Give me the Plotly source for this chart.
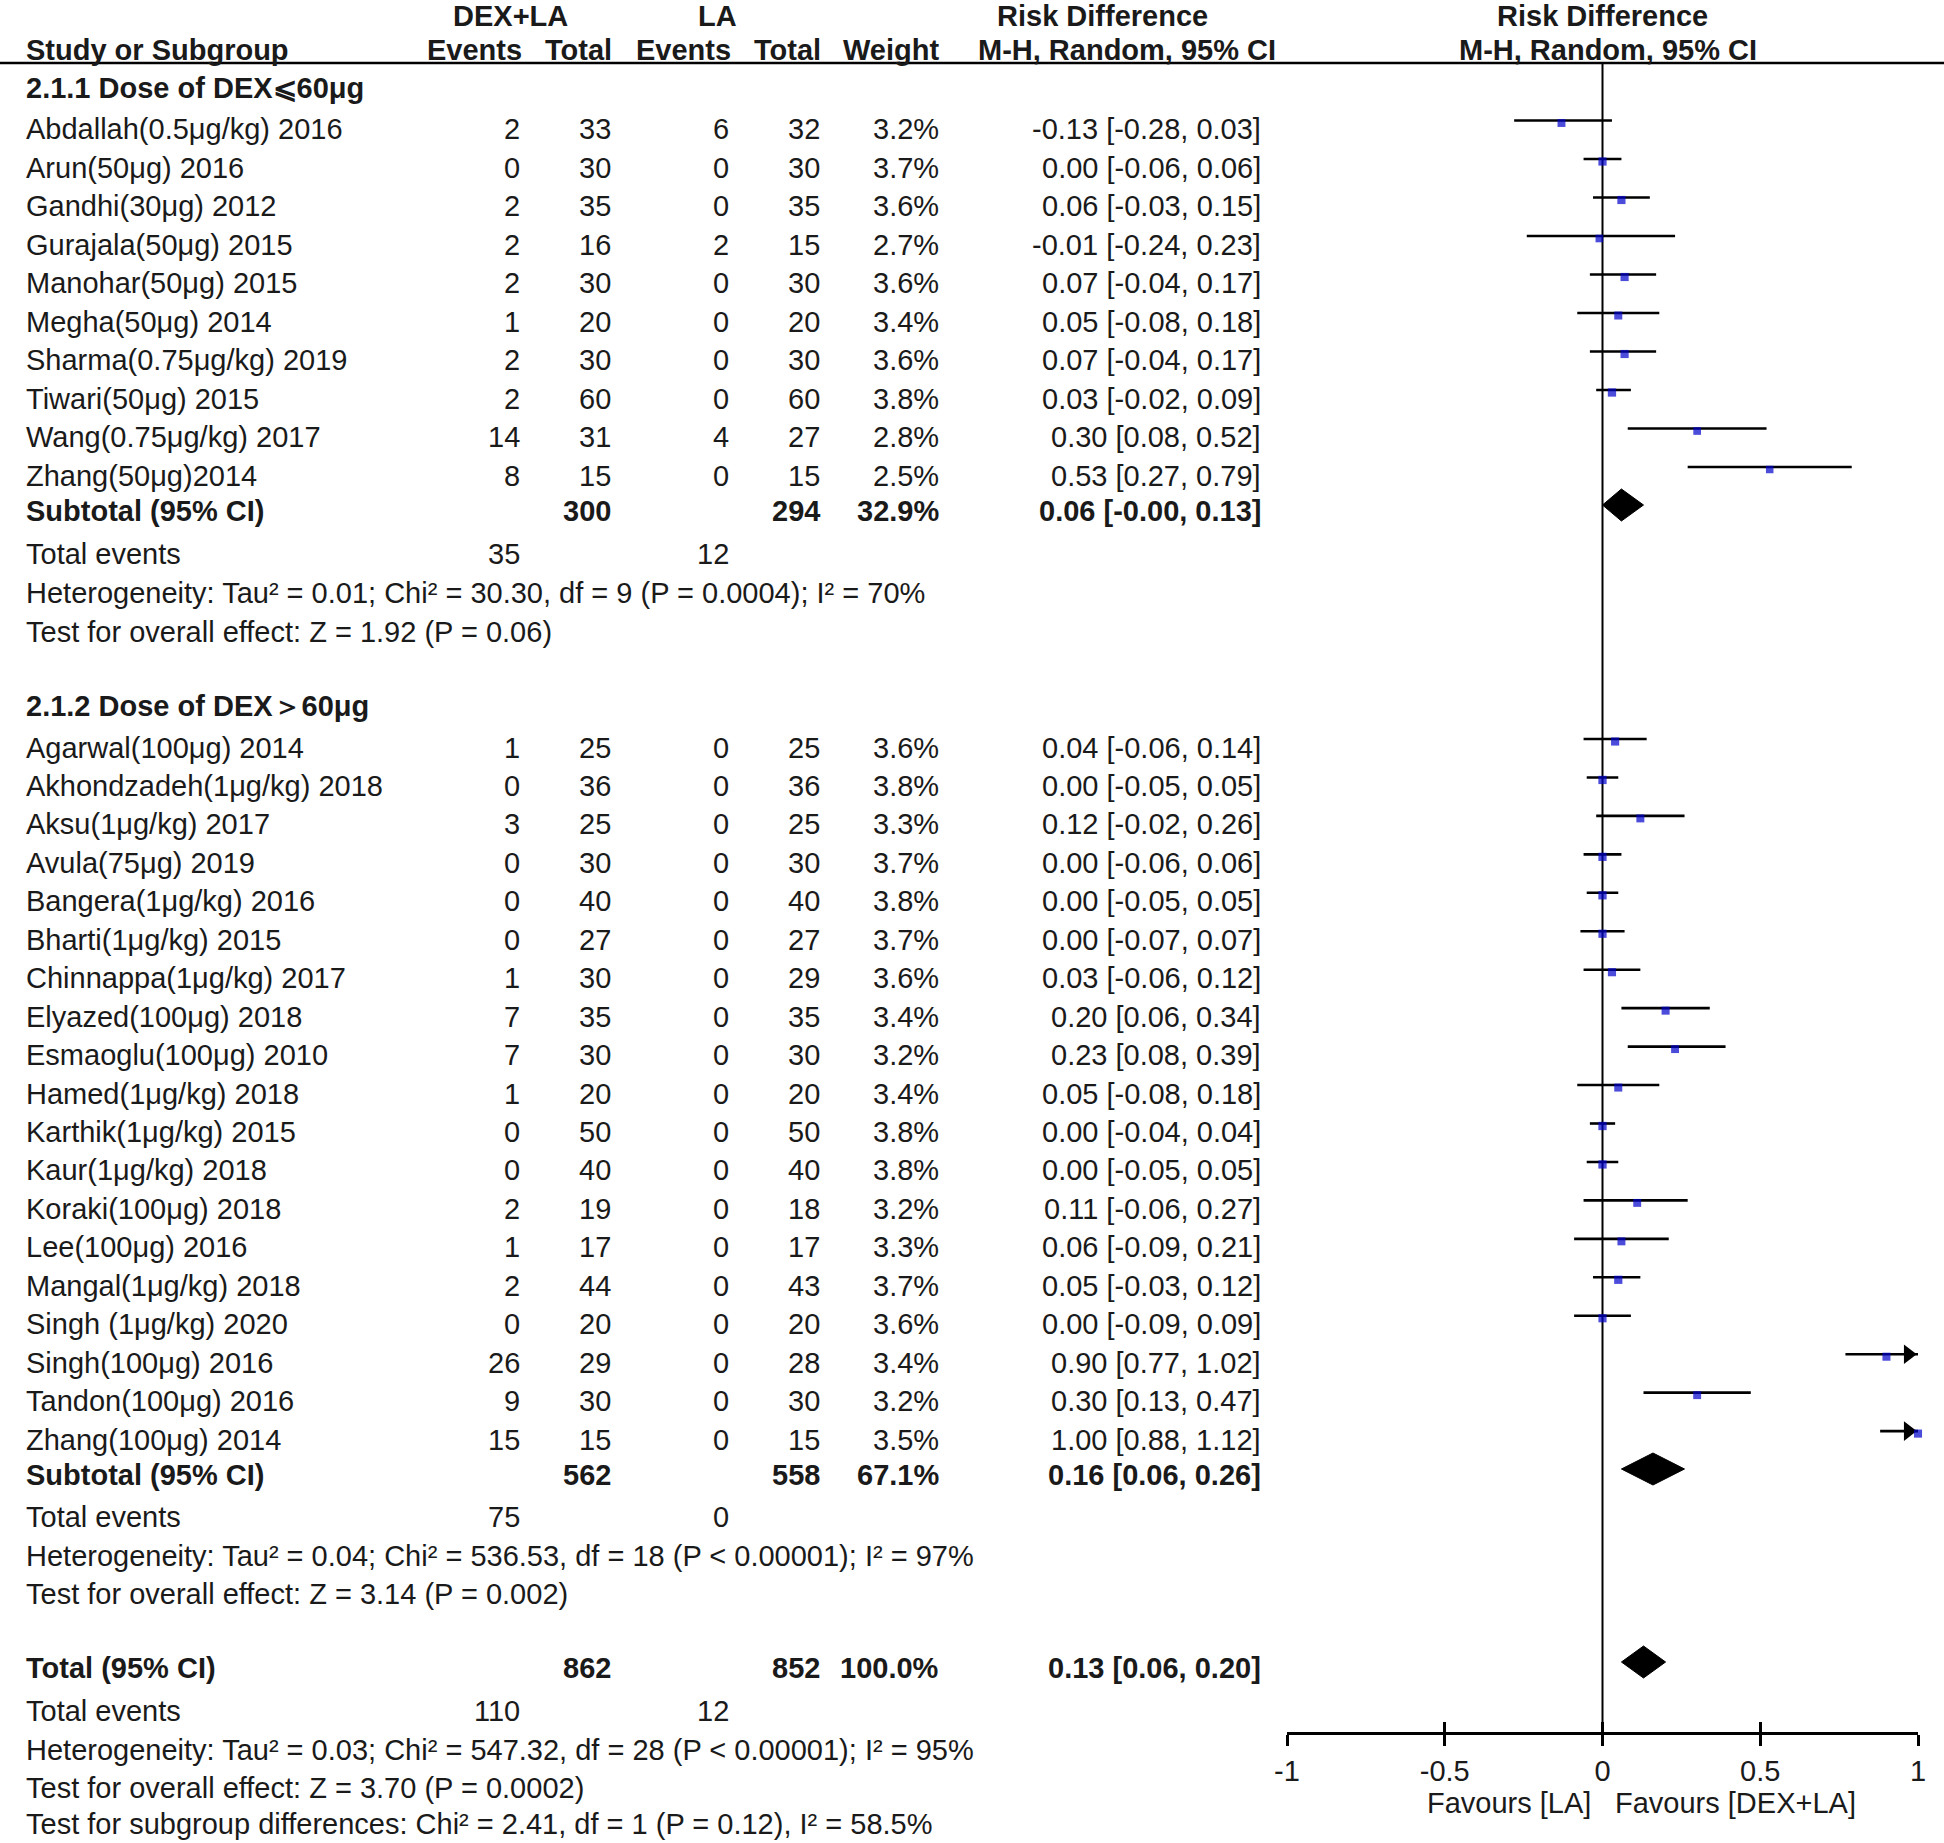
import plotly.graph_objects as go

# ---------------- data ----------------
g1_names = ["Abdallah(0.5μg/kg) 2016", "Arun(50μg) 2016", "Gandhi(30μg) 2012", "Gurajala(50μg) 2015",
            "Manohar(50μg) 2015", "Megha(50μg) 2014", "Sharma(0.75μg/kg) 2019", "Tiwari(50μg) 2015",
            "Wang(0.75μg/kg) 2017", "Zhang(50μg)2014"]
g1_dex_ev = [2, 0, 2, 2, 2, 1, 2, 2, 14, 8]
g1_dex_tot = [33, 30, 35, 16, 30, 20, 30, 60, 31, 15]
g1_la_ev = [6, 0, 0, 2, 0, 0, 0, 0, 4, 0]
g1_la_tot = [32, 30, 35, 15, 30, 20, 30, 60, 27, 15]
g1_weight = [3.2, 3.7, 3.6, 2.7, 3.6, 3.4, 3.6, 3.8, 2.8, 2.5]
g1_rd = [-0.13, 0.00, 0.06, -0.01, 0.07, 0.05, 0.07, 0.03, 0.30, 0.53]
g1_lo = [-0.28, -0.06, -0.03, -0.24, -0.04, -0.08, -0.04, -0.02, 0.08, 0.27]
g1_hi = [0.03, 0.06, 0.15, 0.23, 0.17, 0.18, 0.17, 0.09, 0.52, 0.79]

g2_names = ["Agarwal(100μg) 2014", "Akhondzadeh(1μg/kg) 2018", "Aksu(1μg/kg) 2017", "Avula(75μg) 2019",
            "Bangera(1μg/kg) 2016", "Bharti(1μg/kg) 2015", "Chinnappa(1μg/kg) 2017", "Elyazed(100μg) 2018",
            "Esmaoglu(100μg) 2010", "Hamed(1μg/kg) 2018", "Karthik(1μg/kg) 2015", "Kaur(1μg/kg) 2018",
            "Koraki(100μg) 2018", "Lee(100μg) 2016", "Mangal(1μg/kg) 2018", "Singh (1μg/kg) 2020",
            "Singh(100μg) 2016", "Tandon(100μg) 2016", "Zhang(100μg) 2014"]
g2_dex_ev = [1, 0, 3, 0, 0, 0, 1, 7, 7, 1, 0, 0, 2, 1, 2, 0, 26, 9, 15]
g2_dex_tot = [25, 36, 25, 30, 40, 27, 30, 35, 30, 20, 50, 40, 19, 17, 44, 20, 29, 30, 15]
g2_la_ev = [0] * 19
g2_la_tot = [25, 36, 25, 30, 40, 27, 29, 35, 30, 20, 50, 40, 18, 17, 43, 20, 28, 30, 15]
g2_weight = [3.6, 3.8, 3.3, 3.7, 3.8, 3.7, 3.6, 3.4, 3.2, 3.4, 3.8, 3.8, 3.2, 3.3, 3.7, 3.6, 3.4, 3.2, 3.5]
g2_rd = [0.04, 0.00, 0.12, 0.00, 0.00, 0.00, 0.03, 0.20, 0.23, 0.05, 0.00, 0.00, 0.11, 0.06, 0.05, 0.00, 0.90, 0.30, 1.00]
g2_lo = [-0.06, -0.05, -0.02, -0.06, -0.05, -0.07, -0.06, 0.06, 0.08, -0.08, -0.04, -0.05, -0.06, -0.09, -0.03, -0.09, 0.77, 0.13, 0.88]
g2_hi = [0.14, 0.05, 0.26, 0.06, 0.05, 0.07, 0.12, 0.34, 0.39, 0.18, 0.04, 0.05, 0.27, 0.21, 0.12, 0.09, 1.02, 0.47, 1.12]

group_titles = ["2.1.1 Dose of DEX⩽60μg", "2.1.2 Dose of DEX＞60μg"]
sub_dex_tot = [300, 562]
sub_la_tot = [294, 558]
sub_weight = [32.9, 67.1]
sub_rd = [0.06, 0.16]
sub_lo = [-0.0, 0.06]
sub_hi = [0.13, 0.26]
sub_dex_events = [35, 75]
sub_la_events = [12, 0]
sub_het = ["Heterogeneity: Tau² = 0.01; Chi² = 30.30, df = 9 (P = 0.0004); I² = 70%",
           "Heterogeneity: Tau² = 0.04; Chi² = 536.53, df = 18 (P < 0.00001); I² = 97%"]
sub_test = ["Test for overall effect: Z = 1.92 (P = 0.06)",
            "Test for overall effect: Z = 3.14 (P = 0.002)"]

tot_dex_tot, tot_la_tot, tot_weight = 862, 852, 100.0
tot_rd, tot_lo, tot_hi = 0.13, 0.06, 0.20
tot_dex_events, tot_la_events = 110, 12
tot_het = "Heterogeneity: Tau² = 0.03; Chi² = 547.32, df = 28 (P < 0.00001); I² = 95%"
tot_test = "Test for overall effect: Z = 3.70 (P = 0.0002)"
sg_test = "Test for subgroup differences: Chi² = 2.41, df = 1 (P = 0.12), I² = 58.5%"

tick_vals = [-1, -0.5, 0, 0.5, 1]
tick_text = ["-1", "-0.5", "0", "0.5", "1"]
favours_left = "Favours [LA]"
favours_right = "Favours [DEX+LA]"

# ---------------- layout geometry (pixels) ----------------
W, H = 1944, 1843
FONT = "Liberation Sans, Arial, sans-serif"
FS = 29
TXT = "#1a1a1a"

X_NAME = 25
X_DEX_EV, X_DEX_TOT, X_LA_EV, X_LA_TOT, X_W, X_RD = 521, 612, 730, 821, 940, 1262
PLOT_L, PLOT_R = 1287, 1918
AXIS_Y = 1733
UNDERLINE_Y = 63
PITCH = 38.45

y_h1, y_h2 = 16, 50
y_g1_title = 88
y_g1 = [129 + 38.5 * i for i in range(len(g1_names))]
y_sub1, y_te1, y_het1, y_test1 = 511, 554, 593, 632
y_g2_title = 706
y_g2 = [747.5 + PITCH * i for i in range(len(g2_names))]
y_sub2, y_te2, y_het2, y_test2 = 1475, 1517, 1556, 1594
y_tot, y_te3, y_het3, y_test3, y_sg = 1668, 1711, 1750, 1788, 1824
y_fav = 1803

LINE_OFF = -8.5
SQ_OFF = 2.5
DIA_OFF = -6
DIA_H = 16

annotations = []


def txt(x, y, s, anchor="left", bold=False):
    annotations.append(dict(
        x=x / W, y=y, xref="paper", yref="y", text=("<b>%s</b>" % s) if bold else s,
        showarrow=False, xanchor=anchor, yanchor="middle", borderpad=0,
        font=dict(family=FONT, size=FS, color=TXT)))


def fmt_rd(r, lo, hi):
    return "%.2f [%.2f, %.2f]" % (r, lo, hi)


# headers
txt(510, y_h1, "DEX+LA", "center", True)
txt(717, y_h1, "LA", "center", True)
txt(1102, y_h1, "Risk Difference", "center", True)
txt(1602, y_h1, "Risk Difference", "center", True)
txt(X_NAME, y_h2, "Study or Subgroup", "left", True)
txt(X_DEX_EV + 2, y_h2, "Events", "right", True)
txt(X_DEX_TOT + 1, y_h2, "Total", "right", True)
txt(X_LA_EV + 2, y_h2, "Events", "right", True)
txt(X_LA_TOT + 1, y_h2, "Total", "right", True)
txt(X_W, y_h2, "Weight", "right", True)
txt(1127, y_h2, "M-H, Random, 95% CI", "center", True)
txt(1608, y_h2, "M-H, Random, 95% CI", "center", True)

groups = [
    (g1_names, g1_dex_ev, g1_dex_tot, g1_la_ev, g1_la_tot, g1_weight, g1_rd, g1_lo, g1_hi,
     y_g1_title, y_g1, y_sub1, y_te1, y_het1, y_test1),
    (g2_names, g2_dex_ev, g2_dex_tot, g2_la_ev, g2_la_tot, g2_weight, g2_rd, g2_lo, g2_hi,
     y_g2_title, y_g2, y_sub2, y_te2, y_het2, y_test2),
]

ci_x, ci_y = [], []
sq_x, sq_y, sq_s = [], [], []
arr_x, arr_y = [], []
diamonds = []

XMIN, XMAX = -1, 1
px_per_unit = (PLOT_R - PLOT_L) / (XMAX - XMIN)
ARROW_SIZE = 17
arrow_tip = (ARROW_SIZE / 3 ** 0.5) / px_per_unit

for gi, (names, dev, dtot, lev, ltot, wt, rd, lo, hi, yt, ys, ysub, yte, yhet, ytest) in enumerate(groups):
    txt(X_NAME, yt, group_titles[gi], "left", True)
    for i, n in enumerate(names):
        y = ys[i]
        txt(X_NAME, y, n)
        txt(X_DEX_EV, y, str(dev[i]), "right")
        txt(X_DEX_TOT, y, str(dtot[i]), "right")
        txt(X_LA_EV, y, str(lev[i]), "right")
        txt(X_LA_TOT, y, str(ltot[i]), "right")
        txt(X_W, y, "%.1f%%" % wt[i], "right")
        txt(X_RD, y, fmt_rd(rd[i], lo[i], hi[i]), "right")
        yl = y + LINE_OFF
        l = max(lo[i], XMIN)
        h = min(hi[i], XMAX)
        ci_x += [l, h, None]
        ci_y += [yl, yl, None]
        if hi[i] > XMAX:
            arr_x.append(XMAX - arrow_tip)
            arr_y.append(yl)
        sq_x.append(rd[i])
        sq_y.append(yl + SQ_OFF)
        sq_s.append(6.0 + 0.6 * wt[i])
    txt(X_NAME, ysub, "Subtotal (95% CI)", "left", True)
    txt(X_DEX_TOT, ysub, str(sub_dex_tot[gi]), "right", True)
    txt(X_LA_TOT, ysub, str(sub_la_tot[gi]), "right", True)
    txt(X_W, ysub, "%.1f%%" % sub_weight[gi], "right", True)
    txt(X_RD, ysub, fmt_rd(sub_rd[gi], sub_lo[gi], sub_hi[gi]), "right", True)
    diamonds.append((sub_rd[gi], sub_lo[gi], sub_hi[gi], ysub + DIA_OFF))
    txt(X_NAME, yte, "Total events")
    txt(X_DEX_EV, yte, str(sub_dex_events[gi]), "right")
    txt(X_LA_EV, yte, str(sub_la_events[gi]), "right")
    txt(X_NAME, yhet, sub_het[gi])
    txt(X_NAME, ytest, sub_test[gi])

txt(X_NAME, y_tot, "Total (95% CI)", "left", True)
txt(X_DEX_TOT, y_tot, str(tot_dex_tot), "right", True)
txt(X_LA_TOT, y_tot, str(tot_la_tot), "right", True)
txt(X_W, y_tot, "%.1f%%" % tot_weight, "right", True)
txt(X_RD, y_tot, fmt_rd(tot_rd, tot_lo, tot_hi), "right", True)
diamonds.append((tot_rd, tot_lo, tot_hi, y_tot + DIA_OFF))
txt(X_NAME, y_te3, "Total events")
txt(X_DEX_EV, y_te3, str(tot_dex_events), "right")
txt(X_LA_EV, y_te3, str(tot_la_events), "right")
txt(X_NAME, y_het3, tot_het)
txt(X_NAME, y_test3, tot_test)
txt(X_NAME, y_sg, sg_test)

txt(1592, y_fav, favours_left, "right")
txt(1614, y_fav, favours_right, "left")

fig = go.Figure()

# zero line
fig.add_trace(go.Scatter(x=[0, 0], y=[UNDERLINE_Y, AXIS_Y], mode="lines",
                         line=dict(color="black", width=2), hoverinfo="skip", showlegend=False))
# CI lines
fig.add_trace(go.Scatter(x=ci_x, y=ci_y, mode="lines", line=dict(color="black", width=2.6),
                         hoverinfo="skip", showlegend=False))
# arrows
fig.add_trace(go.Scatter(x=arr_x, y=arr_y, mode="markers", cliponaxis=False,
                         marker=dict(symbol="triangle-right", size=ARROW_SIZE, color="black",
                                     line=dict(width=0)),
                         hoverinfo="skip", showlegend=False))
# squares
fig.add_trace(go.Scatter(x=sq_x, y=sq_y, mode="markers", cliponaxis=False,
                         marker=dict(symbol="square", size=sq_s, color="#0000cc", line=dict(width=0)),
                         hoverinfo="skip", showlegend=False))
# diamonds
for est, lo, hi, yc in diamonds:
    fig.add_trace(go.Scatter(x=[lo, est, hi, est, lo], y=[yc, yc - DIA_H, yc, yc + DIA_H, yc],
                             mode="lines", fill="toself", fillcolor="black",
                             line=dict(color="black", width=1), hoverinfo="skip", showlegend=False))
# helper trace for the overlay axis
fig.add_trace(go.Scatter(x=[0], y=[AXIS_Y], xaxis="x2", mode="markers", marker=dict(opacity=0),
                         hoverinfo="skip", showlegend=False))

dom = [PLOT_L / W, PLOT_R / W]
axis_pos = 1 - AXIS_Y / H
fig.update_layout(
    template="none",
    width=W, height=H, margin=dict(l=0, r=0, t=0, b=0, pad=0, autoexpand=False),
    paper_bgcolor="white", plot_bgcolor="white",
    showlegend=False,
    xaxis=dict(domain=dom, range=[XMIN, XMAX], anchor="free", position=axis_pos, automargin=False,
               showline=True, linecolor="black", linewidth=2.6,
               ticks="outside", ticklen=11, tickwidth=2.6, tickcolor="black",
               tickvals=tick_vals, ticktext=tick_text, showgrid=False, zeroline=False,
               tickfont=dict(family=FONT, size=FS, color=TXT), fixedrange=True),
    xaxis2=dict(domain=dom, range=[XMIN, XMAX], overlaying="x", matches="x", anchor="free",
                position=axis_pos, automargin=False, showline=False, ticks="inside", ticklen=11,
                tickwidth=2.6, tickcolor="black", tickvals=tick_vals, showticklabels=False,
                showgrid=False, zeroline=False, fixedrange=True),
    yaxis=dict(domain=[0, 1], range=[H, 0], visible=False, fixedrange=True, automargin=False),
    annotations=annotations,
    shapes=[dict(type="line", xref="paper", yref="y", x0=0, x1=1, y0=UNDERLINE_Y, y1=UNDERLINE_Y,
                 line=dict(color="black", width=2.6))],
)

fig.write_html("out.html", config={"displayModeBar": False},
               post_script="document.body.style.margin='0px';")
